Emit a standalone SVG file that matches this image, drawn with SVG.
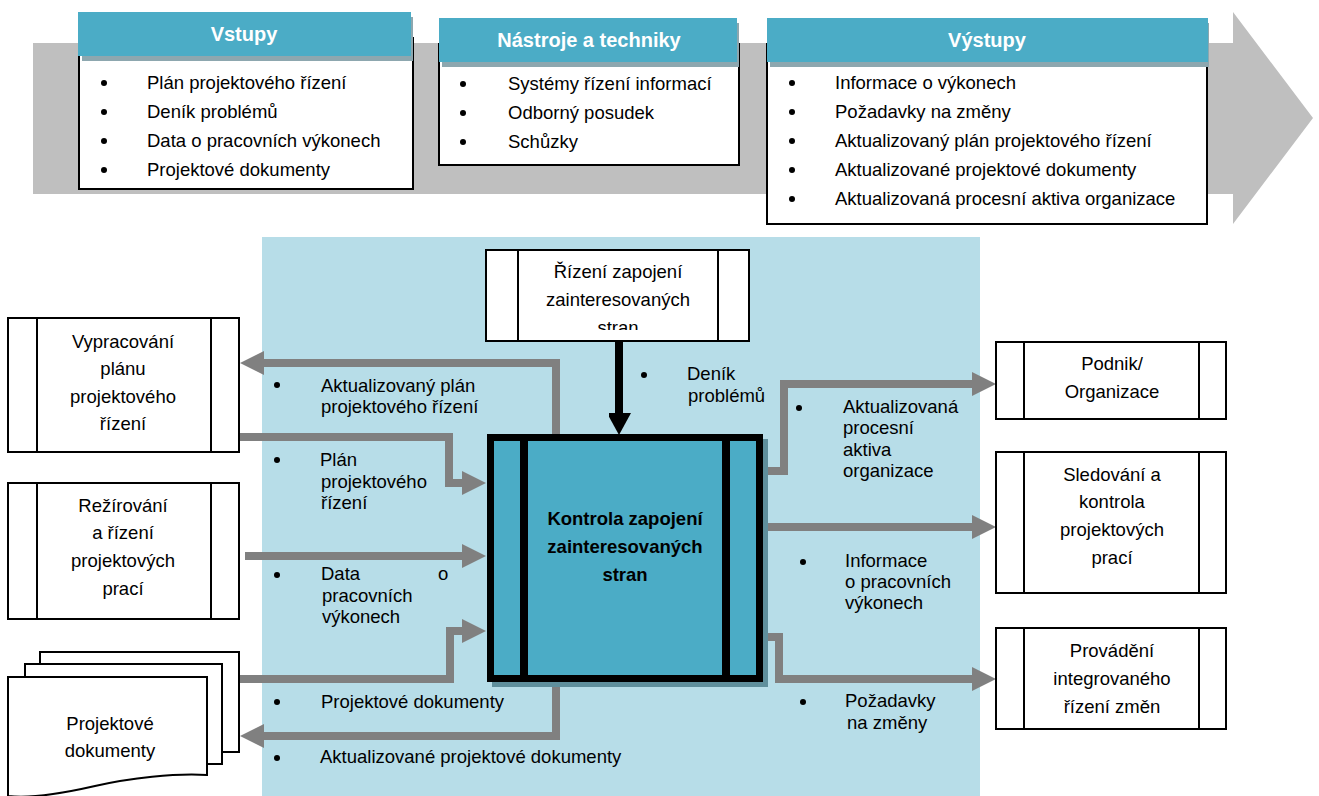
<svg xmlns="http://www.w3.org/2000/svg" width="1319" height="796" viewBox="0 0 1319 796">
<style>
text{font-family:"Liberation Sans",Arial,sans-serif;font-size:18.5px;fill:#000}
.hd{font-weight:bold;font-size:20px;fill:#fff;text-anchor:middle}
.c{text-anchor:middle}
.b{font-weight:bold}
.box{fill:#fff;stroke:#000;stroke-width:2}
.hdr{fill:#4BACC6}
.sh{fill:#8DA7AF}
.ln{stroke:#000;stroke-width:2}
.ga{fill:none;stroke:#808080;stroke-width:8;marker-end:url(#ah)}
</style>
<defs>
<marker id="ah" markerUnits="userSpaceOnUse" markerWidth="24" markerHeight="24" viewBox="0 0 24 24" refX="1" refY="12" orient="auto"><path d="M0,0 L24,12 L0,24 Z" fill="#808080"/></marker>
<marker id="bh" markerUnits="userSpaceOnUse" markerWidth="24" markerHeight="22" viewBox="0 0 24 22" refX="1" refY="12" orient="auto"><path d="M0,0 L22,12 L0,24 Z" fill="#000"/></marker>
<clipPath id="clipR"><rect x="486" y="250" width="263" height="80"/></clipPath>
</defs>

<g id="band">
<path d="M33,43 H1233 V12 L1313,118 L1233,224 V194 H33 Z" fill="#BFBFBF"/>
</g>

<g id="vstupy">
<rect class="box" x="79" y="38" width="334" height="151"/>
<rect class="sh" x="82" y="17" width="331" height="44"/>
<rect class="hdr" x="78" y="12" width="333" height="44"/>
<text class="hd" x="244" y="41">Vstupy</text>
<circle cx="104" cy="83" r="3"/><text x="147" y="89">Plán projektového řízení</text>
<circle cx="104" cy="112" r="3"/><text x="147" y="118">Deník problémů</text>
<circle cx="104" cy="141" r="3"/><text x="147" y="147">Data o pracovních výkonech</text>
<circle cx="104" cy="170" r="3"/><text x="147" y="176">Projektové dokumenty</text>
</g>

<g id="nastroje">
<rect class="box" x="439" y="44" width="300" height="121"/>
<rect class="sh" x="442" y="23" width="297" height="44"/>
<rect class="hdr" x="439" y="18" width="298" height="44"/>
<text class="hd" x="589" y="47">Nástroje a techniky</text>
<circle cx="463" cy="84" r="3"/><text x="508" y="90">Systémy řízení informací</text>
<circle cx="463" cy="113" r="3"/><text x="508" y="119">Odborný posudek</text>
<circle cx="463" cy="142" r="3"/><text x="508" y="148">Schůzky</text>
</g>

<g id="vystupy">
<rect class="box" x="767" y="44" width="440" height="180"/>
<rect class="sh" x="770" y="23" width="439" height="44"/>
<rect class="hdr" x="767" y="18" width="441" height="44"/>
<text class="hd" x="987" y="47">Výstupy</text>
<circle cx="792" cy="83" r="3"/><text x="835" y="89">Informace o výkonech</text>
<circle cx="792" cy="112" r="3"/><text x="835" y="118">Požadavky na změny</text>
<circle cx="792" cy="141" r="3"/><text x="835" y="147">Aktualizovaný plán projektového řízení</text>
<circle cx="792" cy="170" r="3"/><text x="835" y="176">Aktualizované projektové dokumenty</text>
<circle cx="792" cy="199" r="3"/><text x="835" y="205">Aktualizovaná procesní aktiva organizace</text>
</g>

<g id="area">
<rect x="262" y="237" width="718" height="559" fill="#B7DDE8"/>
</g>

<g id="connectors">
<polyline class="ga" points="556,438 556,363 263,363"/>
<polyline class="ga" points="240,437 449,437 449,483 463,483"/>
<polyline class="ga" points="245,556 463,556"/>
<polyline class="ga" points="240,679 450,679 450,631 463,631"/>
<polyline class="ga" points="556,678 556,736 263,736"/>
<polyline class="ga" points="760,471 784,471 784,384 973,384"/>
<polyline class="ga" points="764,527 973,527"/>
<polyline class="ga" points="760,637 779,637 779,679 973,679"/>
<line x1="619" y1="341" x2="619" y2="414" stroke="#000" stroke-width="8" marker-end="url(#bh)"/>
</g>

<g id="labels">
<circle cx="277" cy="385" r="3"/><text x="321" y="392">Aktualizovaný plán</text><text x="321" y="413">projektového řízení</text>
<circle cx="277" cy="460" r="3"/><text x="320" y="466">Plán</text><text x="321" y="488">projektového</text><text x="321" y="509">řízení</text>
<circle cx="277" cy="575" r="3"/><text x="321" y="580">Data</text><text x="438" y="580">o</text><text x="322" y="602">pracovních</text><text x="322" y="623">výkonech</text>
<circle cx="277" cy="702" r="3"/><text x="321" y="708">Projektové dokumenty</text>
<circle cx="277" cy="758" r="3"/><text x="320" y="763">Aktualizované projektové dokumenty</text>
<circle cx="644" cy="375" r="3"/><text x="687" y="380">Deník</text><text x="688" y="402">problémů</text>
<circle cx="799" cy="408" r="3"/><text x="843" y="413">Aktualizovaná</text><text x="843" y="434">procesní</text><text x="843" y="456">aktiva</text><text x="843" y="477">organizace</text>
<circle cx="803" cy="562" r="3"/><text x="845" y="567">Informace</text><text x="845" y="588">o pracovních</text><text x="845" y="609">výkonech</text>
<circle cx="803" cy="702" r="3"/><text x="845" y="707">Požadavky</text><text x="847" y="729">na změny</text>
</g>

<g id="rizeni">
<rect class="box" x="486" y="250" width="263" height="91"/>
<line class="ln" x1="518" y1="250" x2="518" y2="341"/>
<line class="ln" x1="718" y1="250" x2="718" y2="341"/>
<g clip-path="url(#clipR)">
<text class="c" x="618" y="278">Řízení zapojení</text>
<text class="c" x="618" y="306">zainteresovaných</text>
<text class="c" x="618" y="334">stran</text>
</g>
</g>

<g id="kontrola">
<rect x="492" y="439" width="276" height="248" fill="#5F8F9C"/>
<rect x="490.5" y="437.5" width="269" height="241" fill="#4BACC6" stroke="#000" stroke-width="7"/>
<rect x="520" y="437" width="8" height="242" fill="#000"/>
<rect x="722" y="437" width="8" height="242" fill="#000"/>
<text class="c b" x="625" y="525">Kontrola zapojení</text>
<text class="c b" x="625" y="553">zainteresovaných</text>
<text class="c b" x="625" y="581">stran</text>
</g>

<g id="vypracovani">
<rect class="box" x="8" y="318" width="231" height="134"/>
<line class="ln" x1="37" y1="318" x2="37" y2="452"/>
<line class="ln" x1="211" y1="318" x2="211" y2="452"/>
<text class="c" x="123" y="348">Vypracování</text>
<text class="c" x="123" y="375">plánu</text>
<text class="c" x="123" y="403">projektového</text>
<text class="c" x="123" y="430">řízení</text>
</g>

<g id="rezirovani">
<rect class="box" x="8" y="483" width="231" height="136"/>
<line class="ln" x1="37" y1="483" x2="37" y2="619"/>
<line class="ln" x1="211" y1="483" x2="211" y2="619"/>
<text class="c" x="123" y="512">Režírování</text>
<text class="c" x="123" y="539">a řízení</text>
<text class="c" x="123" y="567">projektových</text>
<text class="c" x="123" y="595">prací</text>
</g>

<g id="dokumenty">
<rect class="box" x="40" y="652" width="199" height="100"/>
<rect class="box" x="25" y="664" width="197" height="100"/>
<path class="box" d="M8,677 H207 V775 C175,773 130,778 95,786 C60,794 30,799 8,796 Z"/>
<text class="c" x="110" y="730">Projektové</text>
<text class="c" x="110" y="757">dokumenty</text>
</g>

<g id="podnik">
<rect class="box" x="996" y="342" width="230" height="77"/>
<line class="ln" x1="1024" y1="342" x2="1024" y2="419"/>
<line class="ln" x1="1199" y1="342" x2="1199" y2="419"/>
<text class="c" x="1112" y="370">Podnik/</text>
<text class="c" x="1112" y="398">Organizace</text>
</g>

<g id="sledovani">
<rect class="box" x="996" y="452" width="230" height="141"/>
<line class="ln" x1="1024" y1="452" x2="1024" y2="593"/>
<line class="ln" x1="1199" y1="452" x2="1199" y2="593"/>
<text class="c" x="1112" y="481">Sledování a</text>
<text class="c" x="1112" y="508">kontrola</text>
<text class="c" x="1112" y="536">projektových</text>
<text class="c" x="1112" y="564">prací</text>
</g>

<g id="provadeni">
<rect class="box" x="996" y="628" width="230" height="101"/>
<line class="ln" x1="1024" y1="628" x2="1024" y2="729"/>
<line class="ln" x1="1199" y1="628" x2="1199" y2="729"/>
<text class="c" x="1112" y="657">Provádění</text>
<text class="c" x="1112" y="685">integrovaného</text>
<text class="c" x="1112" y="713">řízení změn</text>
</g>
</svg>
